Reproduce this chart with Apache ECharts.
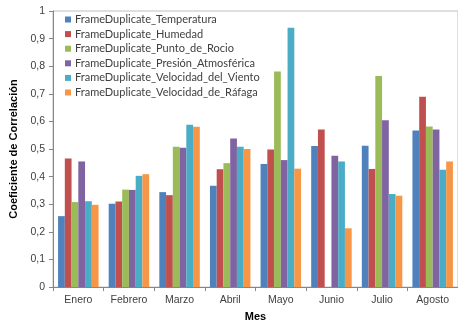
<!DOCTYPE html>
<html>
<head>
<meta charset="utf-8">
<script src="https://cdn.jsdelivr.net/npm/echarts@6/dist/echarts.min.js"></script>
<style>
  html, body { margin: 0; padding: 0; background: #fff; }
  #chart { width: 458px; height: 327px; }
</style>
</head>
<body>
<div id="chart"></div>
<script>
// Monthly correlation coefficients per variable
const meses = ['Enero', 'Febrero', 'Marzo', 'Abril', 'Mayo', 'Junio', 'Julio', 'Agosto'];
const seriesNames = [
  'FrameDuplicate_Temperatura',
  'FrameDuplicate_Humedad',
  'FrameDuplicate_Punto_de_Rocio',
  'FrameDuplicate_Presión_Atmosférica',
  'FrameDuplicate_Velocidad_del_Viento',
  'FrameDuplicate_Velocidad_de_Ráfaga'
];
const temperatura = [0.257, 0.302, 0.344, 0.367, 0.446, 0.511, 0.512, 0.567];
const humedad     = [0.466, 0.310, 0.333, 0.427, 0.498, 0.571, 0.428, 0.689];
const puntoRocio  = [0.308, 0.353, 0.508, 0.449, 0.781, null,  0.765, 0.582];
const presion     = [0.455, 0.352, 0.505, 0.538, 0.460, 0.476, 0.604, 0.571];
const viento      = [0.311, 0.403, 0.588, 0.508, 0.939, 0.455, 0.337, 0.425];
const rafaga      = [0.298, 0.409, 0.581, 0.500, 0.429, 0.213, 0.331, 0.455];
const yTicks = [0, 0.1, 0.2, 0.3, 0.4, 0.5, 0.6, 0.7, 0.8, 0.9, 1];

const values = [temperatura, humedad, puntoRocio, presion, viento, rafaga];
const colors = ['#4F81BD', '#C0504D', '#9BBB59', '#8064A2', '#4BACC6', '#F79646'];
const font = '"Liberation Sans", Arial, sans-serif';
const legendFont = 'Lato, "Liberation Sans", Arial, sans-serif';

const chart = echarts.init(document.getElementById('chart'), null, { renderer: 'canvas' });
chart.setOption({
  animation: false,
  textStyle: { fontFamily: font },
  color: colors,
  grid: {
    left: 49, right: 0, top: 11, bottom: 31,
    show: true, borderColor: '#BFBFBF', borderWidth: 1, backgroundColor: 'transparent'
  },
  legend: {
    orient: 'vertical',
    left: 65, top: 14,
    padding: 0,
    itemWidth: 6, itemHeight: 6, itemGap: 3.6,
    icon: 'rect',
    textStyle: { fontSize: 11, color: '#404040', fontFamily: legendFont, padding: [0, 0, 0, -1] },
    data: seriesNames
  },
  xAxis: {
    type: 'category',
    data: meses,
    name: 'Mes',
    nameLocation: 'middle',
    nameGap: 23,
    nameTextStyle: { fontWeight: 'bold', fontSize: 11, color: '#000' },
    axisLine: { lineStyle: { color: '#868686' } },
    axisTick: { show: true, length: 4, lineStyle: { color: '#868686' } },
    axisLabel: { color: '#404040', fontSize: 10.5, margin: 8 }
  },
  yAxis: {
    type: 'value',
    min: 0, max: 1, interval: 0.1,
    name: 'Coeficiente de Correlación',
    nameLocation: 'middle',
    nameGap: 34,
    nameTextStyle: { fontWeight: 'bold', fontSize: 11, color: '#000' },
    axisLine: { show: true, lineStyle: { color: '#868686' } },
    axisTick: { show: true, length: 4, lineStyle: { color: '#868686' } },
    splitLine: { show: false },
    axisLabel: {
      color: '#404040', fontSize: 10.5, margin: 8,
      formatter: v => {
        const t = yTicks.find(k => Math.abs(k - v) < 1e-9);
        return t === undefined ? '' : String(+t.toFixed(1)).replace('.', ',');
      }
    }
  },
  series: values.map((d, i) => ({
    name: seriesNames[i],
    type: 'bar',
    data: d,
    barGap: '0%',
    barCategoryGap: '20%'
  }))
});
</script>
</body>
</html>
